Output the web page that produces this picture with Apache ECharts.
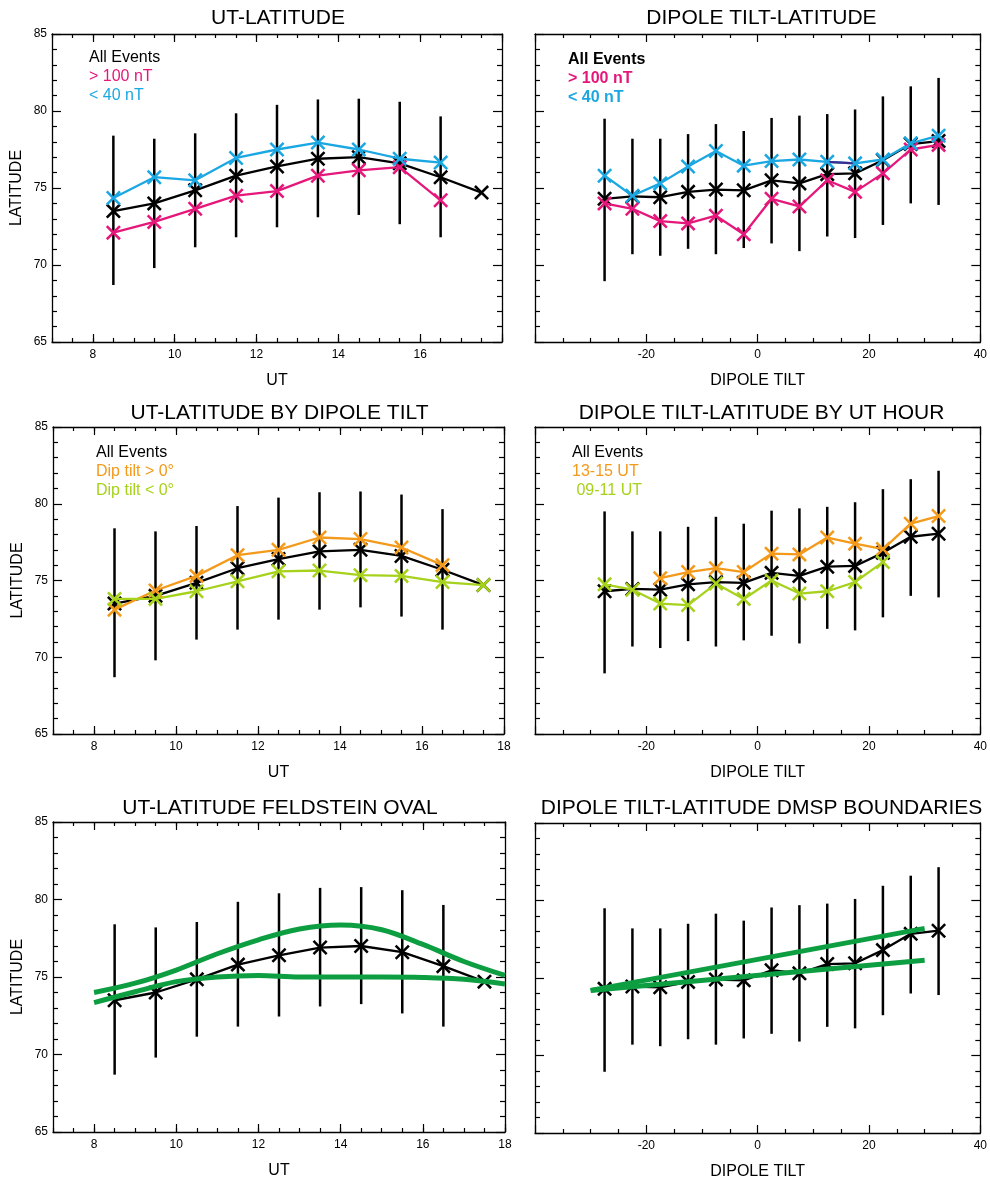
<!DOCTYPE html>
<html><head><meta charset="utf-8">
<script src="https://cdn.jsdelivr.net/npm/echarts@6/dist/echarts.min.js"></script>
<style>html,body{margin:0;padding:0;background:#fff;overflow:hidden}#c{width:990px;height:1181px}</style>
</head><body><div id="c"></div>
<script>
// ---------------- data ----------------
const utHours   = [8.5, 9.5, 10.5, 11.5, 12.5, 13.5, 14.5, 15.5, 16.5, 17.5];
const utAllLat  = [73.5, 74.0, 74.85, 75.8, 76.4, 76.9, 77.0, 76.6, 75.7, 74.7];
const utErrHigh = [78.4, 78.2, 78.55, 79.85, 80.4, 80.75, 80.8, 80.6, 79.65, null];
const utErrLow  = [68.7, 69.8, 71.15, 71.8, 72.45, 73.1, 73.25, 72.65, 71.8, null];
const utGt100nT = [72.1, 72.8, 73.65, 74.5, 74.8, 75.8, 76.15, 76.35, 74.2];
const utLt40nT  = [74.35, 75.7, 75.5, 76.95, 77.5, 77.95, 77.5, 76.9, 76.65];
const utTiltPos = [73.1, 74.35, 75.3, 76.65, 77.0, 77.8, 77.7, 77.15, 76.0];
const utTiltNeg = [73.8, 73.8, 74.3, 74.95, 75.6, 75.65, 75.35, 75.3, 74.9, 74.7];

const tiltBins    = [-27.5, -22.5, -17.5, -12.5, -7.5, -2.5, 2.5, 7.5, 12.5, 17.5, 22.5, 27.5, 32.5];
const tiltAllLat  = [74.3, 74.45, 74.4, 74.75, 74.9, 74.85, 75.5, 75.3, 75.9, 75.95, 76.8, 77.85, 78.05];
const tiltErrHigh = [79.5, 78.2, 78.2, 78.5, 79.15, 78.7, 79.55, 79.7, 79.8, 80.1, 80.95, 81.6, 82.15];
const tiltErrLow  = [68.95, 70.7, 70.6, 71.05, 70.7, 71.1, 71.4, 70.9, 71.85, 71.75, 72.6, 74.0, 73.9];
const tiltGt100nT = [74.0, 73.65, 72.85, 72.7, 73.2, 72.0, 74.3, 73.8, 75.5, 74.75, 75.95, 77.5, 77.8];
const tiltLt40nT  = [75.8, 74.5, 75.3, 76.4, 77.4, 76.45, 76.75, 76.85, 76.7, 76.6, 76.85, 77.9, 78.4];
const tiltUT1315  = [null, null, 75.15, 75.55, 75.8, 75.55, 76.75, 76.7, 77.8, 77.4, 77.05, 78.7, 79.2];
const tiltUT0911  = [74.75, 74.4, 73.5, 73.4, 74.8, 73.8, 75.0, 74.15, 74.3, 74.9, 76.2];

const feldUT          = [8, 9, 10, 11, 12, 13, 14, 15, 16, 17, 18];
const feldPoleward    = [74.0, 74.6, 75.45, 76.5, 77.4, 78.1, 78.35, 78.05, 77.1, 76.0, 75.1];
const feldEquatorward = [73.35, 74.05, 74.7, 75.0, 75.1, 75.0, 75.0, 75.0, 74.97, 74.85, 74.55];

const dmspTilt  = [-30, 30];
const dmspUpper = [74.2, 78.2];
const dmspLower = [74.2, 76.15];

const utTickValues   = [8, 10, 12, 14, 16, 18];
const utLabelsPanel1 = [8, 10, 12, 14, 16];
const utLabelsFull   = [8, 10, 12, 14, 16, 18];

const titles = ['UT-LATITUDE', 'DIPOLE TILT-LATITUDE', 'UT-LATITUDE BY DIPOLE TILT',
  'DIPOLE TILT-LATITUDE BY UT HOUR', 'UT-LATITUDE FELDSTEIN OVAL', 'DIPOLE TILT-LATITUDE DMSP BOUNDARIES'];

// ---------------- styling ----------------
const FONT = '"Liberation Sans", Arial, Helvetica, sans-serif';
const C = { black: '#000000', magenta: '#E5177B', cyan: '#1BA7E1', orange: '#F39A1B', lime: '#A7D21C', green: '#0E9E42', indigo: '#3B2D8E' };
const XSYM = 'path://M0,12L12,0L50,38L88,0L100,12L62,50L100,88L88,100L50,62L12,100L0,88L38,50Z';

const grids = [
  { left: 52, top: 34, width: 450, height: 308 },
  { left: 535, top: 34, width: 451, height: 308 },
  { left: 53, top: 427, width: 451, height: 307 },
  { left: 535, top: 427, width: 451, height: 307 },
  { left: 53, top: 822, width: 452, height: 310 },
  { left: 535, top: 823, width: 451, height: 310 }
];
const isUT = [true, false, true, false, true, false];

function pairs(xs, ys) {
  const out = [];
  for (let i = 0; i < ys.length; i++) if (ys[i] != null) out.push([xs[i], ys[i]]);
  return out;
}
function triples(xs, lo, hi) {
  const out = [];
  for (let i = 0; i < xs.length; i++) if (lo[i] != null && hi[i] != null) out.push([xs[i], lo[i], hi[i]]);
  return out;
}

const axisLine = { show: true, onZero: false, lineStyle: { color: '#000', width: 1.3 } };
const xAxes = [], yAxes = [], allGrids = [];

grids.forEach(g => allGrids.push(Object.assign({ containLabel: false }, g)));
// main grid axes
grids.forEach((g, gi) => {
  for (let side = 0; side < 2; side++) {
    if (isUT[gi]) {
      xAxes.push({
        type: 'value', gridIndex: gi, position: side === 0 ? 'bottom' : 'top',
        min: 7, max: 18, interval: 0.5,
        axisLine, splitLine: { show: false },
        axisTick: { show: true, inside: true, length: 4, lineStyle: { color: '#000', width: 1.2 } },
        axisLabel: { show: false }
      });
    } else {
      xAxes.push({
        type: 'value', gridIndex: gi, position: side === 0 ? 'bottom' : 'top',
        min: -40, max: 40, interval: 20,
        axisLine, splitLine: { show: false },
        axisTick: { show: true, inside: true, length: 8, lineStyle: { color: '#000', width: 1.2 } },
        minorTick: { show: true, splitNumber: 4, length: 4, lineStyle: { color: '#000', width: 1.2 } },
        axisLabel: side === 0 ? { show: true, showMinLabel: false, fontSize: 12, color: '#000', margin: 7, fontFamily: FONT } : { show: false },
        name: side === 0 ? 'DIPOLE TILT' : '', nameLocation: 'middle', nameGap: 31,
        nameTextStyle: { fontSize: 16, color: '#000', fontFamily: FONT }
      });
    }
    const leftCol = (gi % 2 === 0);
    yAxes.push({
      type: 'value', gridIndex: gi, position: side === 0 ? 'left' : 'right',
      min: 65, max: 85, interval: 5,
      axisLine, splitLine: { show: false },
      axisTick: { show: true, inside: true, length: 9, lineStyle: { color: '#000', width: 1.2 } },
      minorTick: { show: true, splitNumber: 5, length: 5, lineStyle: { color: '#000', width: 1.2 } },
      axisLabel: (side === 0 && leftCol) ? { show: true, fontSize: 12, color: '#000', margin: 5, fontFamily: FONT } : { show: false },
      name: (side === 0 && leftCol) ? 'LATITUDE' : '', nameLocation: 'middle', nameGap: 27,
      nameTextStyle: { fontSize: 16, color: '#000', fontFamily: FONT }
    });
  }
});
// overlay grids for UT major ticks/labels
const overlaySrc = [0, 2, 4];
overlaySrc.forEach((gi) => {
  const og = allGrids.length;
  allGrids.push(Object.assign({ containLabel: false }, grids[gi]));
  for (let side = 0; side < 2; side++) {
    xAxes.push({
      type: 'value', gridIndex: og, position: side === 0 ? 'bottom' : 'top',
      min: 7, max: 18,
      axisLine: { show: false, onZero: false }, splitLine: { show: false },
      axisTick: { show: true, inside: true, length: 8, customValues: utTickValues, lineStyle: { color: '#000', width: 1.2 } },
      axisLabel: side === 0 ? { show: true, customValues: (gi === 0 ? utLabelsPanel1 : utLabelsFull), fontSize: 12, color: '#000', margin: 7, fontFamily: FONT } : { show: false },
      name: side === 0 ? 'UT' : '', nameLocation: 'middle', nameGap: 31,
      nameTextStyle: { fontSize: 16, color: '#000', fontFamily: FONT }
    });
  }
  yAxes.push({ type: 'value', gridIndex: og, min: 65, max: 85, show: false, axisLine: { onZero: false } });
});

// ---------------- series ----------------
const series = [];
function errBars(gi, xs, lo, hi) {
  series.push({
    type: 'custom', xAxisIndex: 2 * gi, yAxisIndex: 2 * gi, silent: true, z: 2,
    data: triples(xs, lo, hi), encode: { x: 0, y: [1, 2] },
    renderItem: (params, api) => {
      const p1 = api.coord([api.value(0), api.value(1)]);
      const p2 = api.coord([api.value(0), api.value(2)]);
      return { type: 'line', shape: { x1: p1[0], y1: p1[1], x2: p2[0], y2: p2[1] }, style: { stroke: '#000', lineWidth: 2.5 } };
    }
  });
}
function marked(gi, xs, ys, color, z) {
  series.push({
    type: 'line', xAxisIndex: 2 * gi, yAxisIndex: 2 * gi, z: z || 3,
    data: pairs(xs, ys), symbol: XSYM, symbolSize: 15, showAllSymbol: true,
    lineStyle: { color, width: 2.3 }, itemStyle: { color, borderWidth: 0 }
  });
}
function band(gi, xs, ys, smooth) {
  series.push({
    type: 'line', xAxisIndex: 2 * gi, yAxisIndex: 2 * gi, z: 5,
    data: pairs(xs, ys), symbol: 'none', smooth: smooth ? 0.35 : false,
    lineStyle: { color: C.green, width: 5 }
  });
}

// Panel 1
errBars(0, utHours, utErrLow, utErrHigh);
marked(0, utHours, utAllLat, C.black);
marked(0, utHours, utGt100nT, C.magenta, 4);
marked(0, utHours, utLt40nT, C.cyan, 4);
// Panel 2
errBars(1, tiltBins, tiltErrLow, tiltErrHigh);
marked(1, tiltBins, tiltAllLat, C.black);
marked(1, tiltBins, tiltGt100nT, C.magenta, 4);
marked(1, tiltBins, tiltLt40nT, C.cyan, 4);
series.push({
  type: 'line', xAxisIndex: 2, yAxisIndex: 2, z: 4, symbol: 'none',
  data: pairs(tiltBins.slice(8, 10), tiltLt40nT.slice(8, 10)), lineStyle: { color: C.indigo, width: 2.3 }
});
// Panel 3
errBars(2, utHours, utErrLow, utErrHigh);
marked(2, utHours, utAllLat, C.black);
marked(2, utHours, utTiltPos, C.orange, 4);
marked(2, utHours, utTiltNeg, C.lime, 4);
// Panel 4
errBars(3, tiltBins, tiltErrLow, tiltErrHigh);
marked(3, tiltBins, tiltAllLat, C.black);
marked(3, tiltBins, tiltUT1315, C.orange, 4);
marked(3, tiltBins, tiltUT0911, C.lime, 4);
// Panel 5
errBars(4, utHours, utErrLow, utErrHigh);
marked(4, utHours, utAllLat, C.black);
band(4, feldUT, feldPoleward, true);
band(4, feldUT, feldEquatorward, true);
// Panel 6
errBars(5, tiltBins, tiltErrLow, tiltErrHigh);
marked(5, tiltBins, tiltAllLat, C.black);
band(5, dmspTilt, dmspUpper, false);
band(5, dmspTilt, dmspLower, false);

// ---------------- text: titles & legends ----------------
const graphic = [];
const titleY = [18, 18, 413, 413, 808, 808];
grids.forEach((g, gi) => {
  graphic.push({ type: 'text', x: g.left + g.width / 2 + 1, y: titleY[gi],
    style: { text: titles[gi], fontSize: 21, fontFamily: FONT, fill: '#000', align: 'center', verticalAlign: 'middle' } });
});
function legend(x, y, items, bold) {
  items.forEach((it, i) => {
    graphic.push({ type: 'text', x, y: y + i * 19,
      style: { text: it[0], fill: it[1], fontSize: 16, fontFamily: FONT, fontWeight: bold ? 'bold' : 'normal', align: 'left', verticalAlign: 'middle' } });
  });
}
legend(89, 58, [['All Events', C.black], ['> 100 nT', C.magenta], ['< 40 nT', C.cyan]], false);
legend(568, 60, [['All Events', C.black], ['> 100 nT', C.magenta], ['< 40 nT', C.cyan]], true);
legend(96, 453, [['All Events', C.black], ['Dip tilt > 0°', C.orange], ['Dip tilt < 0°', C.lime]], false);
legend(572, 453, [['All Events', C.black], ['13-15 UT', C.orange], [' 09-11 UT', C.lime]], false);

const chart = echarts.init(document.getElementById('c'), null, { renderer: 'canvas' });
chart.setOption({
  animation: false,
  backgroundColor: '#fff',
  textStyle: { fontFamily: FONT },
  grid: allGrids, xAxis: xAxes, yAxis: yAxes, series, graphic
});
</script></body></html>
